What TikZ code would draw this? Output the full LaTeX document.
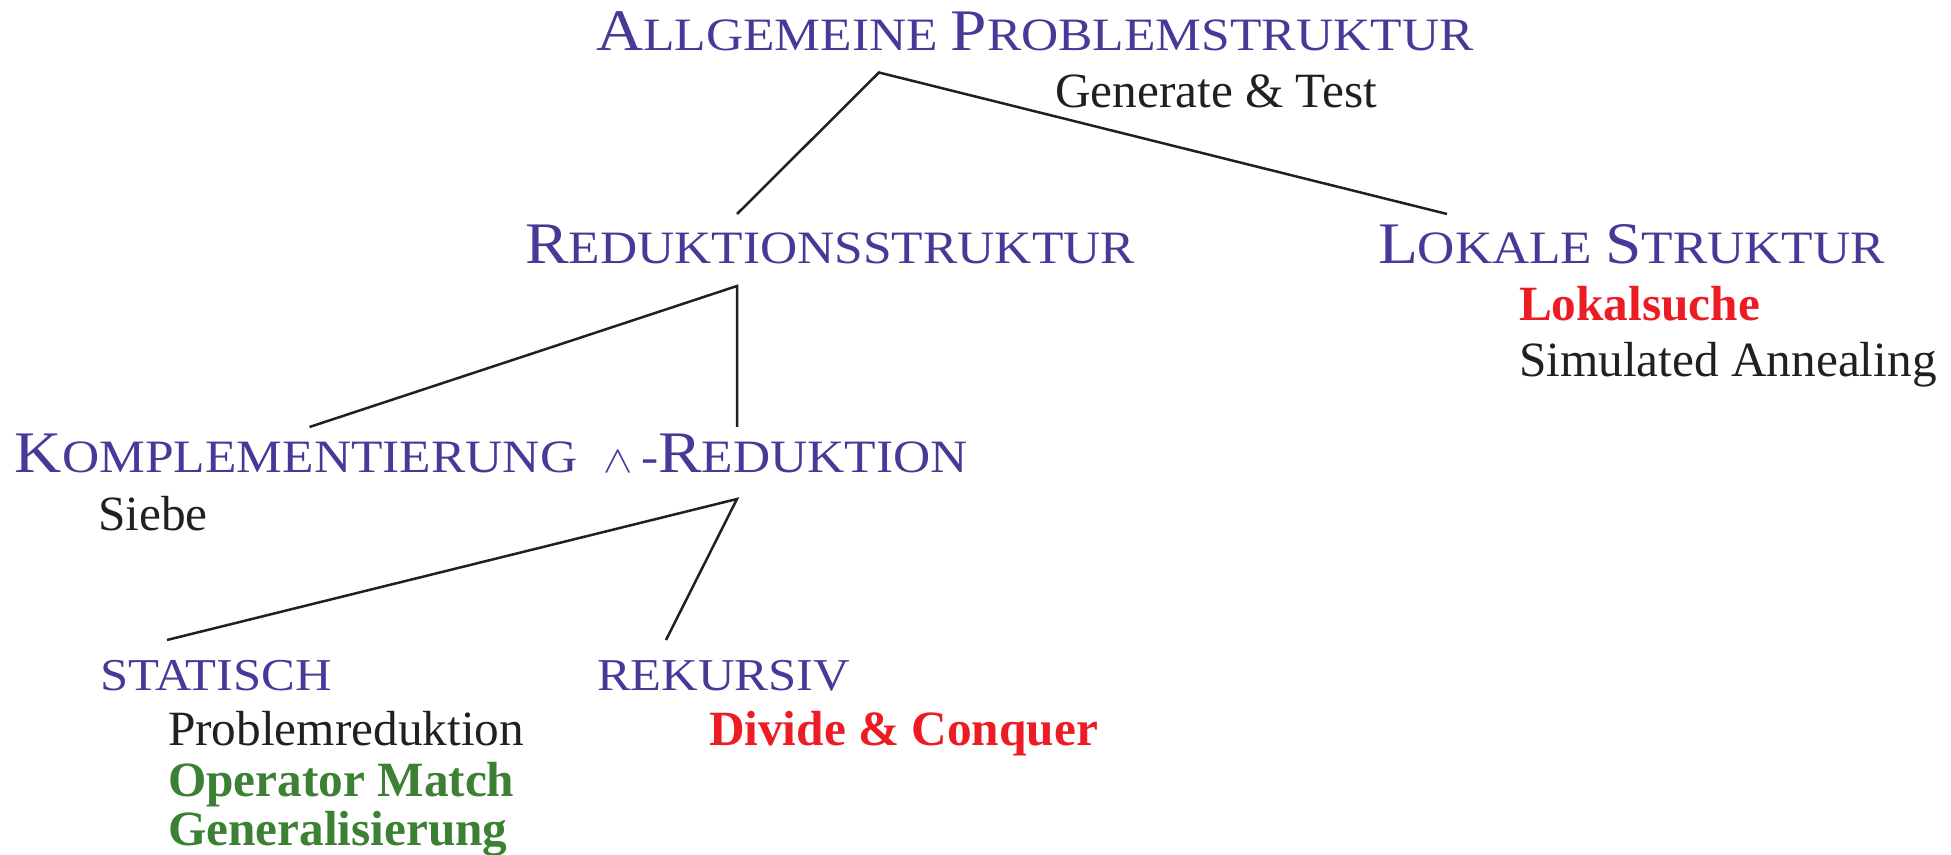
\documentclass[tikz,border=0pt]{standalone}
\usepackage{graphicx}
\usepackage{fontspec}
\setmainfont{Liberation Serif}
\newfontfamily\scfont[FakeStretch=1.11]{Liberation Serif}
\definecolor{headblue}{RGB}{70,58,152}
\definecolor{hotred}{RGB}{237,28,36}
\definecolor{leafgreen}{RGB}{59,128,51}
\definecolor{inkblack}{RGB}{35,31,32}
\newcommand{\BigLet}[1]{{\fontsize{29.45}{30}\selectfont #1}}
\newcommand{\SmCap}[1]{{\fontsize{23.2}{24}\selectfont #1}}
\begin{document}
\begin{tikzpicture}[x=0.5pt,y=-0.5pt,
  lbl/.style={anchor=base west, inner sep=0pt, outer sep=0pt},
  head/.style={lbl, text=headblue, font=\scfont},
  subhead/.style={lbl, text=headblue, font=\scfont\fontsize{22.8}{24}\selectfont},
  plain/.style={lbl, text=inkblack, font=\fontsize{24.65}{26}\selectfont},
  redbold/.style={lbl, text=hotred, font=\fontsize{24.65}{26}\selectfont\bfseries},
  greenbold/.style={lbl, text=leafgreen, font=\fontsize{24.65}{26}\selectfont\bfseries},
  edge/.style={draw=inkblack, line width=1.25pt}]
\useasboundingbox (0,0) rectangle (1951,855);

% level 0
\node[head] (title) at (596,51) {\BigLet{A}\SmCap{LLGEMEINE }\BigLet{P}\SmCap{ROBLEMSTRUKTUR}};
\node[plain] (gt) at (1055,108) {Generate \& Test};

% level 1
\node[head] (red) at (525,264) {\BigLet{R}\SmCap{EDUKTIONSSTRUKTUR}};
\node[head] (lok) at (1378,264) {\BigLet{L}\SmCap{OKALE }\BigLet{S}\SmCap{TRUKTUR}};
\node[redbold] (lsuche) at (1519,321) {Lokalsuche};
\node[plain] (sim) at (1519,377) {Simulated Annealing};

% level 2
\node[head] (komp) at (15,473) {\BigLet{K}\SmCap{OMPLEMENTIERUNG}};
\node[head] (andred) at (603.5,473) {\scalebox{2.2}[1.9]{$\wedge$}\hspace{4.1pt}\SmCap{-}\BigLet{R}\SmCap{EDUKTION}};
\node[plain] (siebe) at (98,531) {Siebe};

% level 3
\node[subhead] (stat) at (100,690) {STATISCH};
\node[subhead] (rek) at (597,690) {REKURSIV};
\node[plain] (prob) at (168,746) {Problemreduktion};
\node[redbold] (divide) at (709,746) {Divide \& Conquer};
\node[greenbold] (opm) at (168,796) {Operator Match};
\node[greenbold] (gen) at (168,845) {Generalisierung};

% connector points
\coordinate (a1) at (879,72.5);
\coordinate (e1) at (737,214);
\coordinate (e2) at (1447,214);
\coordinate (a2) at (737,286);
\coordinate (e3) at (309.5,427);
\coordinate (e4) at (737,427);
\coordinate (a3) at (737,499);
\coordinate (e5) at (167,640);
\coordinate (e6) at (666,640);

\draw[edge] (e1) -- (a1) -- (e2);
\draw[edge] (e3) -- (a2) -- (e4);
\draw[edge] (e5) -- (a3) -- (e6);
\end{tikzpicture}
\end{document}
